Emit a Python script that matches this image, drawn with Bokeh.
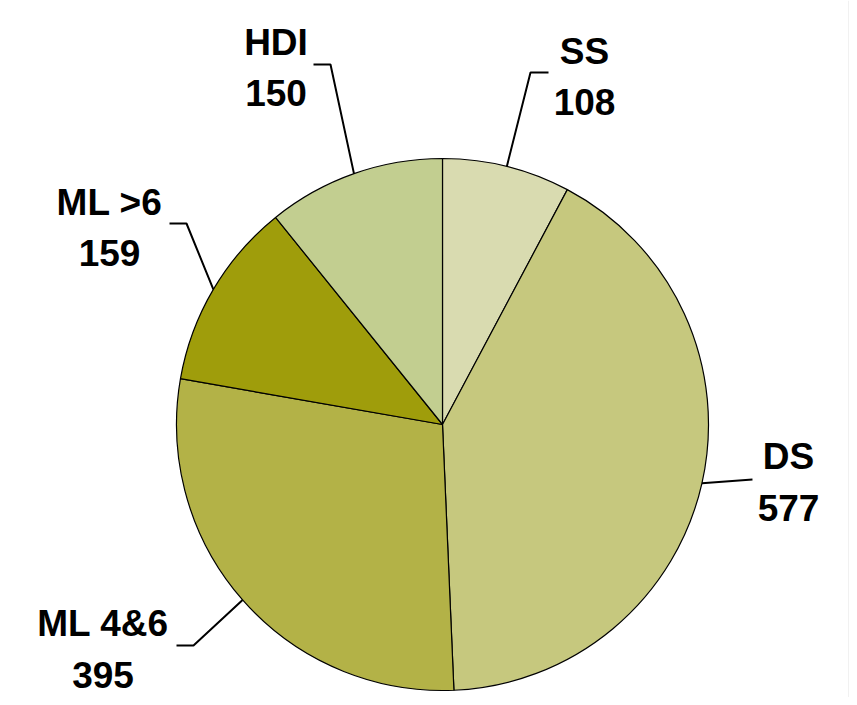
import math
from bokeh.plotting import figure
from bokeh.models import Range1d, ColumnDataSource
from bokeh.core.properties import value
from bokeh.embed import file_html
from bokeh.resources import INLINE

# ---- data ----
categories = ["SS", "DS", "ML 4&6", "ML >6", "HDI"]
counts = [108, 577, 395, 159, 150]
colors = ["#d9dbb0", "#c6c87e", "#b3b247", "#9f9d0b", "#c2ce90"]

# ---- layout (reference pixel coords: origin top-left of 857x705 image) ----
W, H, M = 857, 705, 8
PW, PH = W - M, H - M
CX, CY, R = 442, 424, 266

def Y(y_img):
    return H - y_img

p = figure(width=PW, height=PH, output_backend="svg", toolbar_location=None,
           x_range=Range1d(0, PW), y_range=Range1d(H - PH, H),
           min_border=0, outline_line_color=None, background_fill_color="white",
           border_fill_color="white")
p.axis.visible = False
p.grid.visible = False

total = sum(counts)
starts, ends, mids = [], [], []
acc = 0
for c in counts:
    a0 = math.pi / 2 - 2 * math.pi * acc / total
    acc += c
    a1 = math.pi / 2 - 2 * math.pi * acc / total
    starts.append(a0)
    ends.append(a1)
    mids.append((a0 + a1) / 2)

src = ColumnDataSource(dict(start=starts, end=ends, color=colors, cat=categories, n=counts))
p.wedge(x=CX, y=Y(CY), radius=R, start_angle="start", end_angle="end", direction="clock",
        fill_color="color", line_color="black", line_width=1.2, source=src)

# leader lines: start on the pie edge at each slice's mid angle
bends = {"SS": [(530, 72), (548, 72)],
         "DS": [(752, 479)],
         "ML 4&6": [(193, 645), (176, 645)],
         "ML >6": [(186, 223), (169, 223)],
         "HDI": [(330, 64), (313, 64)]}
label_pos = {"SS": (584, 50.5), "DS": (788, 456), "ML 4&6": (102.5, 623),
             "ML >6": (109, 201.5), "HDI": (275.5, 41.5)}
LINE_GAP = 51
FS = 37

for cat, n, m in zip(categories, counts, mids):
    sx = CX + R * math.cos(m)
    sy = CY - R * math.sin(m)
    pts = [(sx, sy)] + bends[cat]
    p.line([q[0] for q in pts], [Y(q[1]) for q in pts], line_color="black", line_width=2)
    lx, ly = label_pos[cat]
    p.text(x=[lx, lx], y=[Y(ly), Y(ly + LINE_GAP)], text=[cat, str(n)],
           text_align="center", text_baseline="middle",
           text_font=value("Liberation Sans"), text_font_style="bold",
           text_font_size=f"{FS}px", text_color="black")

# faint frame line at right edge
p.line([PW - 0.5, PW - 0.5], [Y(0), Y(H)], line_color="#e3e3e3", line_width=1)

open("out.html", "w").write(file_html(p, INLINE))
